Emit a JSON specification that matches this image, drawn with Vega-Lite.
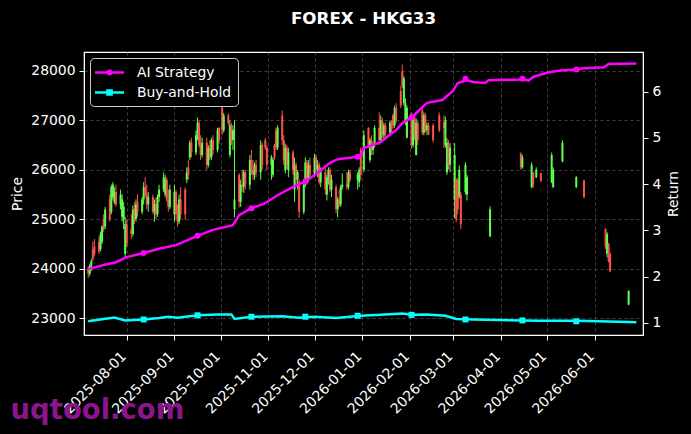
{
"$schema":"https://vega.github.io/schema/vega-lite/v6.json",
"width":559,"height":283,
"autosize":"none",
"padding":{"left":84,"top":52,"right":48,"bottom":99},
"background":"#000000",
"title":{"text":"FOREX - HKG33","color":"#ffffff","font":"DejaVu Sans","fontSize":16.7,"fontWeight":"bold","anchor":"middle","offset":24},
"datasets":{
"candles":[
{"d":"2025-07-07","o":24000,"h":24050,"l":23810,"c":23900},
{"d":"2025-07-08","o":23900,"h":24100,"l":23850,"c":24050},
{"d":"2025-07-09","o":24050,"h":24200,"l":23950,"c":24150},
{"d":"2025-07-10","o":24400,"h":24550,"l":24150,"c":24200},
{"d":"2025-07-11","o":24450,"h":24600,"l":24250,"c":24300},
{"d":"2025-07-14","o":24550,"h":24650,"l":24300,"c":24350},
{"d":"2025-07-15","o":24400,"h":24750,"l":24350,"c":24700},
{"d":"2025-07-16","o":24550,"h":24880,"l":24500,"c":24850},
{"d":"2025-07-17","o":25000,"h":25100,"l":24750,"c":24800},
{"d":"2025-07-18","o":24850,"h":25250,"l":24800,"c":25200},
{"d":"2025-07-21","o":25400,"h":25500,"l":24950,"c":25000},
{"d":"2025-07-22","o":25150,"h":25700,"l":25100,"c":25650},
{"d":"2025-07-23","o":25450,"h":25750,"l":25400,"c":25700},
{"d":"2025-07-24","o":25350,"h":25650,"l":25300,"c":25550},
{"d":"2025-07-25","o":25550,"h":25700,"l":25250,"c":25300},
{"d":"2025-07-28","o":25300,"h":25600,"l":25200,"c":25500},
{"d":"2025-07-29","o":25050,"h":25500,"l":24950,"c":25400},
{"d":"2025-07-30","o":25000,"h":25350,"l":24800,"c":25250},
{"d":"2025-07-31","o":24300,"h":25050,"l":24230,"c":24900},
{"d":"2025-08-01","o":24900,"h":25000,"l":24450,"c":24500},
{"d":"2025-08-04","o":24800,"h":25100,"l":24600,"c":24700},
{"d":"2025-08-05","o":24700,"h":25280,"l":24650,"c":25200},
{"d":"2025-08-06","o":25200,"h":25350,"l":24900,"c":25000},
{"d":"2025-08-07","o":25000,"h":25400,"l":24950,"c":25300},
{"d":"2025-08-08","o":25350,"h":25500,"l":25050,"c":25150},
{"d":"2025-08-11","o":25150,"h":25450,"l":25100,"c":25400},
{"d":"2025-08-12","o":25400,"h":25750,"l":25300,"c":25650},
{"d":"2025-08-13","o":25650,"h":25850,"l":25450,"c":25500},
{"d":"2025-08-14","o":25500,"h":25700,"l":25200,"c":25300},
{"d":"2025-08-15","o":25300,"h":25550,"l":25150,"c":25450},
{"d":"2025-08-18","o":25450,"h":25500,"l":25100,"c":25150},
{"d":"2025-08-19","o":25150,"h":25400,"l":24950,"c":25300},
{"d":"2025-08-20","o":25300,"h":25450,"l":25000,"c":25100},
{"d":"2025-08-21","o":25100,"h":25500,"l":25050,"c":25450},
{"d":"2025-08-22","o":25450,"h":25700,"l":25350,"c":25600},
{"d":"2025-08-25","o":25600,"h":25950,"l":25550,"c":25850},
{"d":"2025-08-26","o":25500,"h":25900,"l":25450,"c":25800},
{"d":"2025-08-27","o":25800,"h":25850,"l":25350,"c":25400},
{"d":"2025-08-28","o":25400,"h":25600,"l":25150,"c":25250},
{"d":"2025-08-29","o":25250,"h":25700,"l":25200,"c":25600},
{"d":"2025-09-01","o":25100,"h":25700,"l":24950,"c":25550},
{"d":"2025-09-02","o":25550,"h":25600,"l":25000,"c":25100},
{"d":"2025-09-03","o":25100,"h":25300,"l":24850,"c":24950},
{"d":"2025-09-04","o":24950,"h":25500,"l":24900,"c":25400},
{"d":"2025-09-05","o":25400,"h":25650,"l":25000,"c":25100},
{"d":"2025-09-08","o":25600,"h":25650,"l":24980,"c":25100},
{"d":"2025-09-09","o":25800,"h":26050,"l":25730,"c":25950},
{"d":"2025-09-10","o":26050,"h":26200,"l":25800,"c":25900},
{"d":"2025-09-11","o":26250,"h":26600,"l":26200,"c":26550},
{"d":"2025-09-12","o":26550,"h":26650,"l":26250,"c":26350},
{"d":"2025-09-15","o":26350,"h":26800,"l":26300,"c":26700},
{"d":"2025-09-16","o":26700,"h":27060,"l":26600,"c":26950},
{"d":"2025-09-17","o":26950,"h":27000,"l":26450,"c":26500},
{"d":"2025-09-18","o":26500,"h":26700,"l":26200,"c":26300},
{"d":"2025-09-19","o":26300,"h":26650,"l":26250,"c":26550},
{"d":"2025-09-22","o":26550,"h":26650,"l":26000,"c":26100},
{"d":"2025-09-23","o":26100,"h":26500,"l":26050,"c":26450},
{"d":"2025-09-24","o":26450,"h":26600,"l":26200,"c":26250},
{"d":"2025-09-25","o":26250,"h":26650,"l":26200,"c":26600},
{"d":"2025-09-26","o":26600,"h":26700,"l":26300,"c":26400},
{"d":"2025-09-29","o":26400,"h":26850,"l":26350,"c":26800},
{"d":"2025-09-30","o":26850,"h":26860,"l":26530,"c":26600},
{"d":"2025-10-02","o":27250,"h":27340,"l":26700,"c":26800},
{"d":"2025-10-03","o":26800,"h":27150,"l":26750,"c":27100},
{"d":"2025-10-06","o":27100,"h":27140,"l":26900,"c":26950},
{"d":"2025-10-07","o":26300,"h":27000,"l":26250,"c":26900},
{"d":"2025-10-08","o":26900,"h":26950,"l":26500,"c":26600},
{"d":"2025-10-09","o":26600,"h":26900,"l":26400,"c":26800},
{"d":"2025-10-10","o":25200,"h":27000,"l":25040,"c":25400},
{"d":"2025-10-13","o":25900,"h":25930,"l":25240,"c":25350},
{"d":"2025-10-14","o":25350,"h":25800,"l":25250,"c":25700},
{"d":"2025-10-15","o":25700,"h":26000,"l":25550,"c":25650},
{"d":"2025-10-16","o":25650,"h":26000,"l":25530,"c":25950},
{"d":"2025-10-17","o":25950,"h":26000,"l":25600,"c":25700},
{"d":"2025-10-20","o":25700,"h":26300,"l":25600,"c":26200},
{"d":"2025-10-21","o":26200,"h":26400,"l":25900,"c":26000},
{"d":"2025-10-22","o":26000,"h":26200,"l":25800,"c":25900},
{"d":"2025-10-23","o":25900,"h":26150,"l":25800,"c":26100},
{"d":"2025-10-24","o":26100,"h":26200,"l":25850,"c":25950},
{"d":"2025-10-27","o":25950,"h":26600,"l":25800,"c":26500},
{"d":"2025-10-28","o":26500,"h":26550,"l":26000,"c":26100},
{"d":"2025-10-30","o":26600,"h":26650,"l":26400,"c":26450},
{"d":"2025-10-31","o":26450,"h":26500,"l":26000,"c":26100},
{"d":"2025-11-03","o":26100,"h":26300,"l":25800,"c":26250},
{"d":"2025-11-04","o":25900,"h":26250,"l":25850,"c":26200},
{"d":"2025-11-05","o":26500,"h":26530,"l":26200,"c":26250},
{"d":"2025-11-06","o":26800,"h":26860,"l":26400,"c":26450},
{"d":"2025-11-07","o":26450,"h":26900,"l":26400,"c":26850},
{"d":"2025-11-10","o":27100,"h":27200,"l":26500,"c":26600},
{"d":"2025-11-11","o":26600,"h":26700,"l":26100,"c":26200},
{"d":"2025-11-12","o":26000,"h":26530,"l":25930,"c":26450},
{"d":"2025-11-13","o":26450,"h":26500,"l":26000,"c":26100},
{"d":"2025-11-14","o":26000,"h":26450,"l":25850,"c":26350},
{"d":"2025-11-17","o":26350,"h":26400,"l":25900,"c":26000},
{"d":"2025-11-18","o":25600,"h":26250,"l":25350,"c":26100},
{"d":"2025-11-19","o":26100,"h":26150,"l":25700,"c":25800},
{"d":"2025-11-20","o":25800,"h":26000,"l":25600,"c":25950},
{"d":"2025-11-21","o":25750,"h":25800,"l":25020,"c":25150},
{"d":"2025-11-24","o":25150,"h":25800,"l":25100,"c":25700},
{"d":"2025-11-25","o":25700,"h":26250,"l":25650,"c":26150},
{"d":"2025-11-26","o":26150,"h":26200,"l":25700,"c":25800},
{"d":"2025-11-27","o":25800,"h":26200,"l":25750,"c":26100},
{"d":"2025-11-28","o":26100,"h":26250,"l":25800,"c":25900},
{"d":"2025-12-01","o":25900,"h":26330,"l":25850,"c":26250},
{"d":"2025-12-02","o":26250,"h":26300,"l":25950,"c":26000},
{"d":"2025-12-03","o":26000,"h":26200,"l":25850,"c":26100},
{"d":"2025-12-04","o":26100,"h":26150,"l":25700,"c":25750},
{"d":"2025-12-05","o":25750,"h":26050,"l":25650,"c":25950},
{"d":"2025-12-08","o":25950,"h":26050,"l":25500,"c":25600},
{"d":"2025-12-09","o":25500,"h":25900,"l":25380,"c":25850},
{"d":"2025-12-10","o":25850,"h":26050,"l":25700,"c":26000},
{"d":"2025-12-11","o":26000,"h":26050,"l":25550,"c":25600},
{"d":"2025-12-12","o":25600,"h":25900,"l":25450,"c":25800},
{"d":"2025-12-15","o":25650,"h":25700,"l":25120,"c":25200},
{"d":"2025-12-16","o":25200,"h":25450,"l":25040,"c":25400},
{"d":"2025-12-17","o":25400,"h":25600,"l":25250,"c":25300},
{"d":"2025-12-18","o":25300,"h":25700,"l":25250,"c":25650},
{"d":"2025-12-19","o":25650,"h":25930,"l":25600,"c":25700},
{"d":"2025-12-22","o":25700,"h":25950,"l":25600,"c":25650},
{"d":"2025-12-23","o":25650,"h":26000,"l":25600,"c":25950},
{"d":"2025-12-24","o":25950,"h":26000,"l":25750,"c":25800},
{"d":"2025-12-29","o":25800,"h":25950,"l":25600,"c":25900},
{"d":"2025-12-30","o":25750,"h":26050,"l":25650,"c":26000},
{"d":"2025-12-31","o":26400,"h":26450,"l":25800,"c":25900},
{"d":"2026-01-02","o":26000,"h":26800,"l":25950,"c":26700},
{"d":"2026-01-05","o":26850,"h":26860,"l":26440,"c":26500},
{"d":"2026-01-06","o":26200,"h":26650,"l":26150,"c":26600},
{"d":"2026-01-07","o":26600,"h":26700,"l":26300,"c":26400},
{"d":"2026-01-08","o":26400,"h":26550,"l":26300,"c":26500},
{"d":"2026-01-09","o":26500,"h":26900,"l":26450,"c":26850},
{"d":"2026-01-12","o":26850,"h":27160,"l":26500,"c":26600},
{"d":"2026-01-13","o":26600,"h":27100,"l":26550,"c":27000},
{"d":"2026-01-14","o":27000,"h":27050,"l":26650,"c":26700},
{"d":"2026-01-15","o":26700,"h":26950,"l":26600,"c":26900},
{"d":"2026-01-16","o":26900,"h":26960,"l":26650,"c":26750},
{"d":"2026-01-19","o":26750,"h":27000,"l":26700,"c":26950},
{"d":"2026-01-20","o":26950,"h":27000,"l":26700,"c":26800},
{"d":"2026-01-21","o":27100,"h":27140,"l":26840,"c":26900},
{"d":"2026-01-22","o":26900,"h":27300,"l":26850,"c":27250},
{"d":"2026-01-23","o":27250,"h":27350,"l":26950,"c":27000},
{"d":"2026-01-26","o":27600,"h":27700,"l":27250,"c":27300},
{"d":"2026-01-27","o":28000,"h":28130,"l":27650,"c":27700},
{"d":"2026-01-28","o":27350,"h":27900,"l":27300,"c":27850},
{"d":"2026-01-29","o":26950,"h":27450,"l":26900,"c":27350},
{"d":"2026-01-30","o":26650,"h":27300,"l":26640,"c":27250},
{"d":"2026-02-02","o":27000,"h":27160,"l":26430,"c":26500},
{"d":"2026-02-03","o":26500,"h":27100,"l":26450,"c":27050},
{"d":"2026-02-04","o":27050,"h":27100,"l":26600,"c":26700},
{"d":"2026-02-05","o":26300,"h":27040,"l":26290,"c":26950},
{"d":"2026-02-06","o":26950,"h":27000,"l":26500,"c":26600},
{"d":"2026-02-09","o":27200,"h":27240,"l":26700,"c":26750},
{"d":"2026-02-10","o":26750,"h":27160,"l":26700,"c":27100},
{"d":"2026-02-11","o":27100,"h":27150,"l":26760,"c":26800},
{"d":"2026-02-12","o":26800,"h":26960,"l":26700,"c":26900},
{"d":"2026-02-13","o":26900,"h":26950,"l":26700,"c":26720},
{"d":"2026-02-16","o":26900,"h":26940,"l":26550,"c":26600},
{"d":"2026-02-20","o":27100,"h":27160,"l":26760,"c":26800},
{"d":"2026-02-23","o":26950,"h":27100,"l":26440,"c":26850},
{"d":"2026-02-24","o":26500,"h":27080,"l":26450,"c":27000},
{"d":"2026-02-25","o":25950,"h":26640,"l":25900,"c":26550},
{"d":"2026-02-26","o":26550,"h":26600,"l":26000,"c":26100},
{"d":"2026-02-27","o":26100,"h":26540,"l":25950,"c":26450},
{"d":"2026-03-02","o":25400,"h":26540,"l":25020,"c":26300},
{"d":"2026-03-03","o":25800,"h":25830,"l":24940,"c":25000},
{"d":"2026-03-04","o":25800,"h":25830,"l":25100,"c":25200},
{"d":"2026-03-05","o":25450,"h":26090,"l":25420,"c":26000},
{"d":"2026-03-06","o":25500,"h":25550,"l":24800,"c":24900},
{"d":"2026-03-09","o":25550,"h":26150,"l":25500,"c":26100},
{"d":"2026-03-10","o":25500,"h":25900,"l":25380,"c":25850},
{"d":"2026-03-25","o":24650,"h":25260,"l":24640,"c":25200},
{"d":"2026-04-14","o":26330,"h":26350,"l":26000,"c":26050},
{"d":"2026-04-15","o":26050,"h":26300,"l":26020,"c":26250},
{"d":"2026-04-21","o":25650,"h":26150,"l":25630,"c":26100},
{"d":"2026-04-22","o":25950,"h":25960,"l":25630,"c":25700},
{"d":"2026-04-24","o":25850,"h":26050,"l":25830,"c":26000},
{"d":"2026-04-27","o":25930,"h":25940,"l":25750,"c":25780},
{"d":"2026-05-04","o":25750,"h":26350,"l":25730,"c":26300},
{"d":"2026-05-05","o":25650,"h":26050,"l":25630,"c":26000},
{"d":"2026-05-11","o":26170,"h":26600,"l":26150,"c":26550},
{"d":"2026-05-20","o":25650,"h":25870,"l":25630,"c":25850},
{"d":"2026-05-25","o":25790,"h":25800,"l":25420,"c":25450},
{"d":"2026-06-08","o":24800,"h":24820,"l":24400,"c":24450},
{"d":"2026-06-09","o":24300,"h":24740,"l":24230,"c":24700},
{"d":"2026-06-10","o":24500,"h":24520,"l":24120,"c":24150},
{"d":"2026-06-11","o":24300,"h":24330,"l":23930,"c":23950},
{"d":"2026-06-23","o":23270,"h":23560,"l":23260,"c":23550}
],
"lines":[
{"d":"2025-07-07","s":"AI Strategy","v":2.16},
{"d":"2025-07-17","s":"AI Strategy","v":2.25},
{"d":"2025-07-25","s":"AI Strategy","v":2.31},
{"d":"2025-08-01","s":"AI Strategy","v":2.42},
{"d":"2025-08-12","s":"AI Strategy","v":2.51},
{"d":"2025-08-22","s":"AI Strategy","v":2.60},
{"d":"2025-09-02","s":"AI Strategy","v":2.68},
{"d":"2025-09-16","s":"AI Strategy","v":2.88},
{"d":"2025-09-26","s":"AI Strategy","v":3.01},
{"d":"2025-10-09","s":"AI Strategy","v":3.11},
{"d":"2025-10-13","s":"AI Strategy","v":3.33},
{"d":"2025-10-21","s":"AI Strategy","v":3.48},
{"d":"2025-10-29","s":"AI Strategy","v":3.57},
{"d":"2025-11-07","s":"AI Strategy","v":3.76},
{"d":"2025-11-17","s":"AI Strategy","v":3.94},
{"d":"2025-11-25","s":"AI Strategy","v":4.06},
{"d":"2025-12-03","s":"AI Strategy","v":4.24},
{"d":"2025-12-11","s":"AI Strategy","v":4.46},
{"d":"2025-12-16","s":"AI Strategy","v":4.54},
{"d":"2025-12-29","s":"AI Strategy","v":4.59},
{"d":"2025-12-31","s":"AI Strategy","v":4.62},
{"d":"2026-01-02","s":"AI Strategy","v":4.78},
{"d":"2026-01-13","s":"AI Strategy","v":4.91},
{"d":"2026-01-17","s":"AI Strategy","v":5.02},
{"d":"2026-01-23","s":"AI Strategy","v":5.17},
{"d":"2026-01-27","s":"AI Strategy","v":5.32},
{"d":"2026-02-03","s":"AI Strategy","v":5.47},
{"d":"2026-02-12","s":"AI Strategy","v":5.76},
{"d":"2026-02-22","s":"AI Strategy","v":5.82},
{"d":"2026-03-01","s":"AI Strategy","v":6.02},
{"d":"2026-03-04","s":"AI Strategy","v":6.19},
{"d":"2026-03-10","s":"AI Strategy","v":6.25},
{"d":"2026-03-14","s":"AI Strategy","v":6.21},
{"d":"2026-03-22","s":"AI Strategy","v":6.19},
{"d":"2026-03-24","s":"AI Strategy","v":6.25},
{"d":"2026-04-12","s":"AI Strategy","v":6.26},
{"d":"2026-04-15","s":"AI Strategy","v":6.28},
{"d":"2026-04-19","s":"AI Strategy","v":6.24},
{"d":"2026-04-22","s":"AI Strategy","v":6.32},
{"d":"2026-05-02","s":"AI Strategy","v":6.42},
{"d":"2026-05-10","s":"AI Strategy","v":6.46},
{"d":"2026-05-19","s":"AI Strategy","v":6.48},
{"d":"2026-05-25","s":"AI Strategy","v":6.51},
{"d":"2026-06-07","s":"AI Strategy","v":6.53},
{"d":"2026-06-10","s":"AI Strategy","v":6.60},
{"d":"2026-06-28","s":"AI Strategy","v":6.61},
{"d":"2025-07-07","s":"Buy-and-Hold","v":1.03},
{"d":"2025-07-17","s":"Buy-and-Hold","v":1.08},
{"d":"2025-07-24","s":"Buy-and-Hold","v":1.11},
{"d":"2025-07-31","s":"Buy-and-Hold","v":1.05},
{"d":"2025-08-12","s":"Buy-and-Hold","v":1.07},
{"d":"2025-08-22","s":"Buy-and-Hold","v":1.10},
{"d":"2025-08-28","s":"Buy-and-Hold","v":1.13},
{"d":"2025-09-03","s":"Buy-and-Hold","v":1.11},
{"d":"2025-09-16","s":"Buy-and-Hold","v":1.16},
{"d":"2025-09-29","s":"Buy-and-Hold","v":1.18},
{"d":"2025-10-08","s":"Buy-and-Hold","v":1.18},
{"d":"2025-10-10","s":"Buy-and-Hold","v":1.08},
{"d":"2025-10-21","s":"Buy-and-Hold","v":1.13},
{"d":"2025-11-10","s":"Buy-and-Hold","v":1.14},
{"d":"2025-11-21","s":"Buy-and-Hold","v":1.11},
{"d":"2025-12-01","s":"Buy-and-Hold","v":1.13},
{"d":"2025-12-15","s":"Buy-and-Hold","v":1.10},
{"d":"2025-12-31","s":"Buy-and-Hold","v":1.15},
{"d":"2026-01-13","s":"Buy-and-Hold","v":1.17},
{"d":"2026-01-27","s":"Buy-and-Hold","v":1.20},
{"d":"2026-02-02","s":"Buy-and-Hold","v":1.17},
{"d":"2026-02-12","s":"Buy-and-Hold","v":1.18},
{"d":"2026-02-24","s":"Buy-and-Hold","v":1.15},
{"d":"2026-03-03","s":"Buy-and-Hold","v":1.08},
{"d":"2026-03-14","s":"Buy-and-Hold","v":1.07},
{"d":"2026-03-31","s":"Buy-and-Hold","v":1.06},
{"d":"2026-04-26","s":"Buy-and-Hold","v":1.04},
{"d":"2026-05-21","s":"Buy-and-Hold","v":1.04},
{"d":"2026-06-16","s":"Buy-and-Hold","v":1.02},
{"d":"2026-06-28","s":"Buy-and-Hold","v":1.01}
],
"marks":[
{"d":"2025-08-12","s":"AI Strategy","v":2.51},
{"d":"2025-09-16","s":"AI Strategy","v":2.88},
{"d":"2025-10-21","s":"AI Strategy","v":3.48},
{"d":"2025-11-25","s":"AI Strategy","v":4.06},
{"d":"2025-12-29","s":"AI Strategy","v":4.59},
{"d":"2026-02-02","s":"AI Strategy","v":5.45},
{"d":"2026-03-09","s":"AI Strategy","v":6.28},
{"d":"2026-04-15","s":"AI Strategy","v":6.28},
{"d":"2026-05-20","s":"AI Strategy","v":6.48},
{"d":"2025-08-12","s":"Buy-and-Hold","v":1.07},
{"d":"2025-09-16","s":"Buy-and-Hold","v":1.16},
{"d":"2025-10-21","s":"Buy-and-Hold","v":1.13},
{"d":"2025-11-25","s":"Buy-and-Hold","v":1.13},
{"d":"2025-12-29","s":"Buy-and-Hold","v":1.15},
{"d":"2026-02-02","s":"Buy-and-Hold","v":1.17},
{"d":"2026-03-09","s":"Buy-and-Hold","v":1.07},
{"d":"2026-04-15","s":"Buy-and-Hold","v":1.05},
{"d":"2026-05-20","s":"Buy-and-Hold","v":1.03}
]
},
"layer":[
{
"data":{"name":"candles"},
"encoding":{
"x":{"field":"d","type":"temporal",
"scale":{"type":"utc","domain":[{"year":2025,"month":7,"date":7,"hours":12,"utc":true},{"year":2026,"month":6,"date":29,"hours":2,"utc":true}]},
"axis":{"values":[{"year":2025,"month":8,"date":1,"utc":true},{"year":2025,"month":9,"date":1,"utc":true},{"year":2025,"month":10,"date":1,"utc":true},{"year":2025,"month":11,"date":1,"utc":true},{"year":2025,"month":12,"date":1,"utc":true},{"year":2026,"month":1,"date":1,"utc":true},{"year":2026,"month":2,"date":1,"utc":true},{"year":2026,"month":3,"date":1,"utc":true},{"year":2026,"month":4,"date":1,"utc":true},{"year":2026,"month":5,"date":1,"utc":true},{"year":2026,"month":6,"date":1,"utc":true}],
"labelExpr":"utcFormat(datum.value, '%Y-%m-%d')","labelAngle":-45,"labelAlign":"right","labelBaseline":"middle","labelOverlap":false,"labelFlush":false,"labelPadding":14,"labelOffset":-3,"grid":true,
"title":"uqtool.com","titleColor":"#8c148c","titleFontSize":27.5,"titleFontWeight":"bold","titleFont":"DejaVu Sans","titleX":-74,"titleY":83,"titleAlign":"left","titleBaseline":"alphabetic","titleAnchor":"start"}}
},
"layer":[
{"mark":{"type":"rule","strokeWidth":1},
"encoding":{
"y":{"field":"l","type":"quantitative","scale":{"domain":[22657,28384],"nice":false,"zero":false},
"axis":{"orient":"left","values":[23000,24000,25000,26000,27000,28000],"format":"d","title":"Price","grid":true,"titlePadding":6}},
"y2":{"field":"h"},
"color":{"condition":{"test":"datum.c >= datum.o","value":"#5dff4d"},"value":"#ff5050"}}},
{"mark":{"type":"bar","width":2},
"encoding":{
"y":{"field":"o","type":"quantitative"},
"y2":{"field":"c"},
"color":{"condition":{"test":"datum.c >= datum.o","value":"#5dff4d"},"value":"#ff5050"}}}
]
},
{
"layer":[
{"data":{"name":"lines"},
"mark":{"type":"line","strokeWidth":2.5},
"encoding":{
"x":{"field":"d","type":"temporal","scale":{"type":"utc"}},
"y":{"field":"v","type":"quantitative","scale":{"domain":[0.734,6.86],"nice":false,"zero":false},
"axis":{"orient":"right","values":[1,2,3,4,5,6],"format":"d","title":"Return","grid":false,"titleAngle":-90,"titleBaseline":"top","titlePadding":6}},
"color":{"field":"s","type":"nominal","scale":{"domain":["AI Strategy","Buy-and-Hold"],"range":["#ff00ff","#00ffff"]},
"legend":{"title":null,"orient":"top-left","offset":6,"fillColor":"#000000","strokeColor":"#cccccc","cornerRadius":4,"padding":6,
"labelColor":"#ffffff","labelFont":"DejaVu Sans","labelFontSize":13.9,"labelOffset":19,"symbolOffset":5,"rowPadding":4,"symbolSize":196,"symbolStrokeWidth":2.5,
"encode":{"symbols":{"update":{
"shape":{"signal":"datum.value === 'AI Strategy' ? 'M-2.07,0H2.07M0.25,0A0.25,0.25,0,1,1,-0.25,0A0.25,0.25,0,1,1,0.25,0Z' : 'M-2.07,0H2.07M-0.3,-0.3H0.3V0.3H-0.3Z'"},
"fill":{"signal":"scale('color', datum.value)"},
"stroke":{"signal":"scale('color', datum.value)"},
"strokeWidth":{"value":2.5}}}}}}}},
{"data":{"name":"marks"},
"transform":[{"filter":"datum.s === 'AI Strategy'"}],
"mark":{"type":"point","filled":true,"size":36,"opacity":1,"shape":"circle","color":"#ff00ff"},
"encoding":{
"x":{"field":"d","type":"temporal","scale":{"type":"utc"}},
"y":{"field":"v","type":"quantitative"}}},
{"data":{"name":"marks"},
"transform":[{"filter":"datum.s === 'Buy-and-Hold'"}],
"mark":{"type":"point","filled":true,"size":36,"opacity":1,"shape":"square","color":"#00ffff"},
"encoding":{
"x":{"field":"d","type":"temporal","scale":{"type":"utc"}},
"y":{"field":"v","type":"quantitative"}}}
]
}
],
"resolve":{"scale":{"y":"independent"}},
"config":{
"view":{"stroke":"#ffffff","strokeWidth":1.2,"fill":"#000000"},
"axis":{"labelColor":"#ffffff","labelFont":"DejaVu Sans","labelFontSize":13.9,"titleColor":"#ffffff","titleFont":"DejaVu Sans","titleFontSize":13.9,"titleFontWeight":"normal","tickColor":"#ffffff","tickSize":5,"tickWidth":1,"domainColor":"#ffffff","gridColor":"#5a5a5a","gridDash":[3,3],"gridWidth":0.7,"labelPadding":4}
}
}
